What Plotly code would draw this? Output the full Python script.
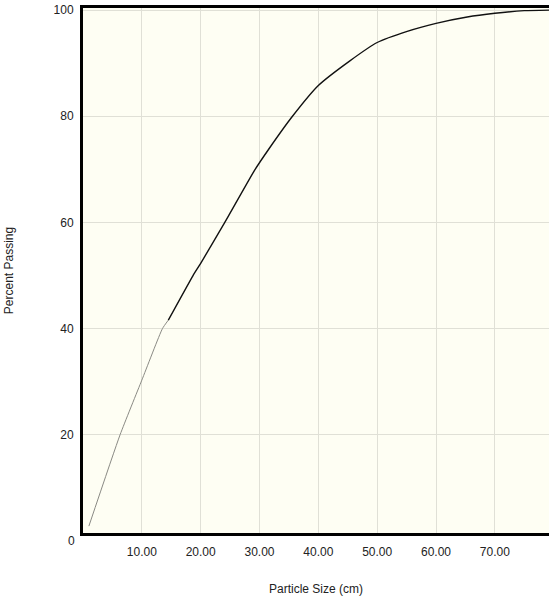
import plotly.graph_objects as go

# Data
particle_size = [1.0, 6.3, 10.0, 13.5, 14.5, 18.7, 20.0, 24.1, 29.2, 31.5, 35.6, 40.0,
                 45.3, 50.0, 55.1, 60.0, 65.3, 70.0, 75.0, 79.2]
percent_passing = [2.8, 20.0, 30.3, 40.0, 41.6, 50.0, 52.3, 60.0, 69.9, 73.7, 80.0, 85.8,
                   90.4, 93.9, 96.0, 97.5, 98.7, 99.4, 99.9, 100.0]
split_index = 4  # lower part of the curve is drawn lighter in the reference

x_tick_values = [10, 20, 30, 40, 50, 60, 70]
y_tick_values = [20, 40, 60, 80, 100]

font_family = "Arial, Liberation Sans, sans-serif"

fig = go.Figure()
fig.add_trace(go.Scatter(
    x=particle_size[:split_index + 1], y=percent_passing[:split_index + 1],
    mode="lines", line=dict(color="#8a8a84", width=1, shape="spline", smoothing=0.5),
    showlegend=False, hoverinfo="skip"))
fig.add_trace(go.Scatter(
    x=particle_size[split_index:], y=percent_passing[split_index:],
    mode="lines", line=dict(color="#111111", width=1.4, shape="spline", smoothing=0.5),
    showlegend=False))

fig.update_layout(
    width=549, height=603,
    margin=dict(l=83, r=0, t=8, b=70, autoexpand=False),
    paper_bgcolor="white",
    plot_bgcolor="#FEFEF3",
    font=dict(family=font_family, size=12, color="#222222"),
    xaxis=dict(
        range=[0, 79.2], tickvals=x_tick_values, tickformat=".2f",
        showgrid=True, gridcolor="#E0E0D6", gridwidth=1,
        showline=True, linecolor="black", linewidth=3, mirror=True,
        ticks="", ticklabelstandoff=6, zeroline=False, automargin=False,
        title=dict(text="Particle Size (cm)", standoff=27, font=dict(size=12)),
    ),
    yaxis=dict(
        range=[1.5, 100.4], tickvals=y_tick_values,
        showgrid=True, gridcolor="#E0E0D6", gridwidth=1,
        showline=True, linecolor="black", linewidth=3, mirror=False,
        ticks="", ticklabelstandoff=4, zeroline=False, automargin=False,
        title=dict(text="Percent Passing", standoff=38, font=dict(size=12)),
    ),
    annotations=[dict(
        text="0", xref="paper", x=0, xanchor="right", xshift=-6,
        yref="paper", y=-0.015, yanchor="middle", showarrow=False,
        font=dict(size=12, color="#222222"))],
)

fig.write_html(
    "out.html",
    config={"displayModeBar": False},
    post_script="document.body.style.margin='0';document.body.style.overflow='hidden';",
)
